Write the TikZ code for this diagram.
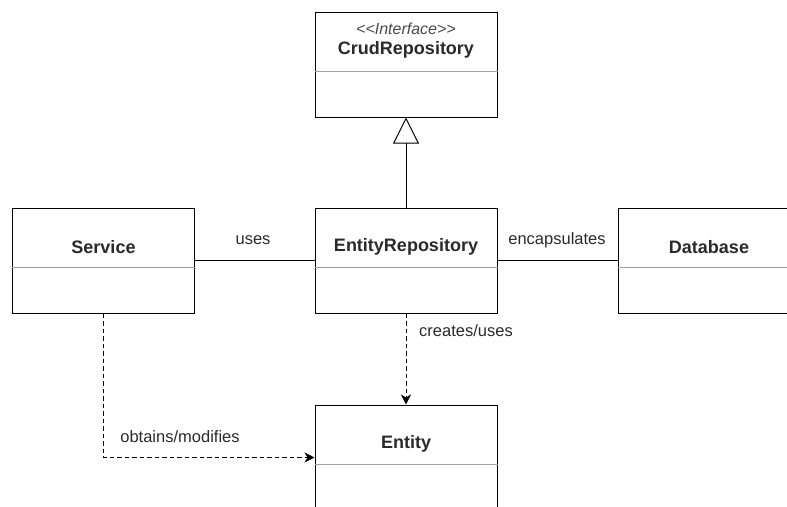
\documentclass[tikz,border=0pt]{standalone}
\usepackage{fontspec}
\setmainfont{Liberation Sans}
\usetikzlibrary{arrows.meta}
\definecolor{ink}{HTML}{2A2A2A}
\definecolor{rule}{HTML}{A0A0A0}
\tikzset{
  cls/.style={draw=black, line width=1pt, fill=white, minimum width=182pt, minimum height=105pt, inner sep=0pt},
  title/.style={font=\bfseries\fontsize{18}{21}\selectfont, text=ink, inner sep=0pt},
  stereo/.style={font=\itshape\fontsize{16}{19}\selectfont, text=ink!85, inner sep=0pt},
  lbl/.style={font=\fontsize{16.5}{19}\selectfont, text=ink, inner sep=0pt},
  divider/.style={draw=rule, line width=0.8pt},
  assoc/.style={draw=black, line width=1pt},
  depend/.style={draw=black, line width=1pt, dash pattern=on 4.5pt off 3pt, -{Stealth[length=10pt, width=10pt, inset=3pt]}},
  realize/.style={draw=black, line width=1pt, -{Triangle[open, length=26pt, width=26pt, fill=white]}},
}
\begin{document}
\begin{tikzpicture}[x=1pt, y=-1pt]
  \useasboundingbox (0,0) rectangle (787,506);
  \clip (0,0) rectangle (787,506);

  % class boxes
  \node[cls] (crud) at (406,64.5) {};
  \node[cls] (svc)  at (103.5,260.5) {};
  \node[cls] (repo) at (406,260.5) {};
  \node[cls] (db)   at (709,260.5) {};
  \node[cls] (ent)  at (406,457.5) {};

  % compartments
  \draw[divider] (crud.west |- 0,71)  -- (crud.east |- 0,71);
  \draw[divider] (svc.west |- 0,267)  -- (svc.east |- 0,267);
  \draw[divider] (repo.west |- 0,267) -- (repo.east |- 0,267);
  \draw[divider] (db.west |- 0,267)   -- (db.east |- 0,267);
  \draw[divider] (ent.west |- 0,464)  -- (ent.east |- 0,464);

  % class names
  \node[stereo] (crudS) at (406,29) {{<}{<}Interface{>}{>}};
  \node[title]  (crudT) at (406,50) {CrudRepository};
  \node[title]  (svcT)  at (103.5,247) {Service};
  \node[title]  (repoT) at (406,247) {EntityRepository};
  \node[title]  (dbT)   at (709,247) {Database};
  \node[title]  (entT)  at (406,444) {Entity};

  % relations
  \draw[realize] (repo.north) -- (crud.south);
  \draw[assoc] (svc.east) -- (repo.west);
  \draw[assoc] (repo.east) -- (db.west);
  \draw[depend] (repo.south) -- (ent.north);
  \draw[depend] (svc.south) |- (ent.west);

  % relation labels
  \node[lbl] (usesL) at (253,240) {uses};
  \node[lbl] (encL)  at (557,240) {encapsulates};
  \node[lbl] (creL)  at (466,331) {creates/uses};
  \node[lbl] (obtL)  at (180,437) {obtains/modifies};
\end{tikzpicture}
\end{document}
